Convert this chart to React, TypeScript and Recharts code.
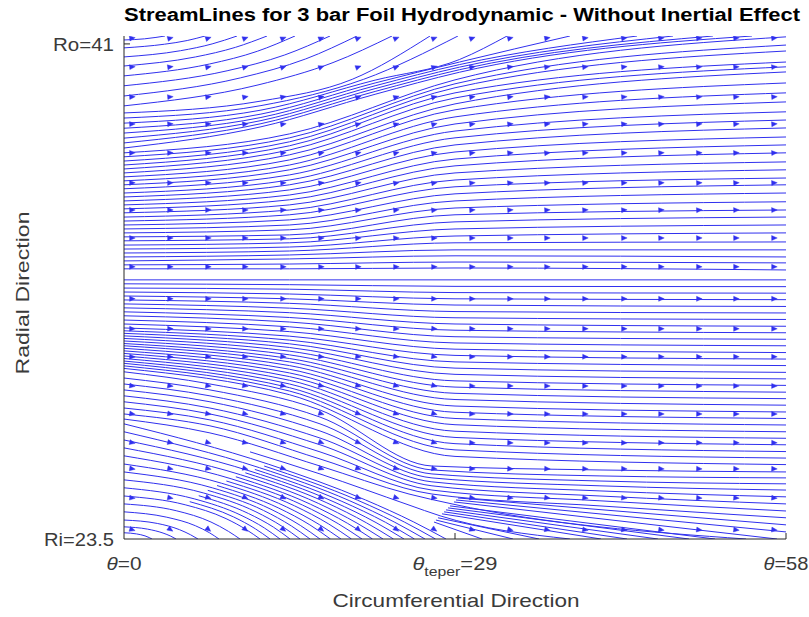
import React from 'react';
import { ComposedChart, Line, Scatter, XAxis, YAxis } from 'recharts';

type Pt = [number, number];

const BLUE = '#3030ee';
const AXIS = '#262626';
const TEXT = '#3a3a3a';
const FONT = '"Liberation Sans", Arial, Helvetica, sans-serif';

// streamlines as [theta, r] points, grouped by region of the bearing pad
const topArcs: Pt[][] = [
  [[0, 41.14], [1.8, 41.18], [2.8, 41.23], [3.59, 41.28]],
  [[0, 40.86], [3.55, 40.99], [5.54, 41.12], [7.1, 41.28]],
  [[0, 40.54], [4.95, 40.76], [7.72, 41.0], [9.9, 41.28]],
  [[0, 40.22], [6.27, 40.54], [9.77, 40.88], [12.53, 41.28]],
  [[0, 39.87], [7.49, 40.29], [11.68, 40.74], [14.98, 41.28]],
  [[0, 39.52], [9.03, 40.05], [14.08, 40.61], [18.05, 41.28]],
  [[0, 39.16], [10.2, 39.8], [15.92, 40.47], [20.41, 41.28]],
  [[0, 38.81], [11.74, 39.55], [18.31, 40.34], [23.48, 41.28]],
];

const bandLines: Pt[][] = [
  [[0, 38.56], [12, 38.98], [20, 39.75], [26.81, 41.28]],
  [[0, 38.38], [12, 38.82], [21, 39.75], [29.26, 41.28]],
  [[0, 38.2], [12, 38.66], [22, 39.72], [29.4, 40.45], [33.56, 41.28]],
  [[0, 38.02], [12, 38.52], [22, 39.62], [29.4, 40.36], [39.07, 41.28]],
  [[0, 37.85], [12, 38.4], [22, 39.52], [29.4, 40.27], [44.95, 41.28]],
  [[0, 37.67], [12, 38.29], [22, 39.42], [29.4, 40.18], [48.1, 41.28]],
  [[0, 37.5], [12, 38.18], [22, 39.32], [29.4, 40.09], [51.6, 41.28]],
  [[0, 37.32], [12, 38.07], [22, 39.22], [29.4, 40.0], [55.02, 41.28]],
];

const upperLines: Pt[][] = [
  [[0, 37.15], [14.5, 37.82], [29, 39.73], [58, 41.25]],
  [[0, 37.01], [14.5, 37.68], [29, 39.59], [58, 40.96]],
  [[0, 36.86], [14.5, 37.54], [29, 39.45], [58, 40.75]],
  [[0, 36.72], [14.5, 37.4], [29, 39.27], [58, 40.36]],
  [[0, 36.58], [14.5, 37.25], [29, 39.09], [58, 40.19]],
  [[0, 36.44], [14.5, 37.08], [29, 38.88], [58, 40.01]],
  [[0, 36.3], [14.5, 36.9], [29, 38.67], [58, 39.62]],
  [[0, 36.16], [14.5, 36.72], [29, 38.42], [58, 39.27]],
  [[0, 36.02], [14.5, 36.55], [29, 38.17], [58, 38.95]],
  [[0, 35.88], [14.5, 36.37], [29, 37.92], [58, 38.6]],
  [[0, 35.73], [14.5, 36.19], [29, 37.68], [58, 38.31]],
  [[0, 35.59], [14.5, 36.02], [29, 37.43], [58, 38.03]],
  [[0, 35.45], [14.5, 35.84], [29, 37.18], [58, 37.71]],
  [[0, 35.31], [14.5, 35.66], [29, 36.93], [58, 37.43]],
  [[0, 35.17], [14.5, 35.49], [29, 36.69], [58, 37.15]],
  [[0, 35.03], [14.5, 35.31], [29, 36.44], [58, 36.83]],
  [[0, 34.88], [14.5, 35.13], [29, 36.19], [58, 36.55]],
  [[0, 34.74], [14.5, 34.96], [29, 35.95], [58, 36.26]],
  [[0, 34.6], [14.5, 34.78], [29, 35.7], [58, 36.02]],
  [[0, 34.46], [14.5, 34.6], [29, 35.45], [58, 35.73]],
  [[0, 34.32], [14.5, 34.43], [29, 35.2], [58, 35.42]],
  [[0, 34.18], [14.5, 34.25], [29, 34.96], [58, 35.13]],
  [[0, 34.04], [14.5, 34.11], [29, 34.71], [58, 34.88]],
  [[0, 33.89], [14.5, 33.97], [29, 34.46], [58, 34.6]],
  [[0, 33.75], [14.5, 33.82], [29, 34.21], [58, 34.32]],
  [[0, 33.61], [14.5, 33.68], [29, 33.97], [58, 34.0]],
  [[0, 33.47], [14.5, 33.54], [29, 33.72], [58, 33.72]],
  [[0, 33.33], [14.5, 33.4], [29, 33.51], [58, 33.47]],
  [[0, 33.19], [14.5, 33.22], [29, 33.29], [58, 33.26]],
  [[0, 33.05], [14.5, 33.05], [29, 33.08], [58, 33.01]],
];

const middleLines: Pt[][] = [
  [[0, 32.66], [14.5, 32.66], [29, 32.66], [58, 32.66]],
  [[0, 32.52], [14.5, 32.49], [29, 32.43], [58, 32.42]],
  [[0, 32.37], [14.5, 32.33], [29, 32.21], [58, 32.19]],
  [[0, 32.23], [14.5, 32.16], [29, 31.99], [58, 31.96]],
  [[0, 32.09], [14.5, 31.99], [29, 31.77], [58, 31.72]],
  [[0, 31.95], [14.5, 31.83], [29, 31.54], [58, 31.49]],
  [[0, 31.81], [14.5, 31.66], [29, 31.32], [58, 31.26]],
  [[0, 31.67], [14.5, 31.5], [29, 31.1], [58, 31.02]],
  [[0, 31.53], [14.5, 31.33], [29, 30.88], [58, 30.79]],
  [[0, 31.39], [14.5, 31.17], [29, 30.65], [58, 30.56]],
  [[0, 31.24], [14.5, 31.0], [29, 30.43], [58, 30.33]],
  [[0, 31.1], [14.5, 30.83], [29, 30.21], [58, 30.09]],
  [[0, 30.96], [14.5, 30.67], [29, 29.99], [58, 29.86]],
  [[0, 30.86], [14.5, 30.53], [29, 29.76], [58, 29.63]],
  [[0, 30.77], [14.5, 30.4], [29, 29.54], [58, 29.39]],
  [[0, 30.68], [14.5, 30.27], [29, 29.32], [58, 29.16]],
  [[0, 30.59], [14.5, 30.14], [29, 29.09], [58, 28.93]],
  [[0, 30.5], [14.5, 30.01], [29, 28.87], [58, 28.69]],
  [[0, 30.41], [14.5, 29.88], [29, 28.65], [58, 28.46]],
  [[0, 30.33], [14.5, 29.76], [29, 28.43], [58, 28.23]],
  [[0, 30.24], [14.5, 29.63], [29, 28.2], [58, 27.99]],
  [[0, 30.15], [14.5, 29.5], [29, 27.98], [58, 27.76]],
  [[0, 30.06], [14.5, 29.37], [29, 27.76], [58, 27.53]],
  [[0, 29.97], [14.5, 29.24], [29, 27.54], [58, 27.29]],
  [[0, 29.88], [14.5, 29.11], [29, 27.31], [58, 27.06]],
  [[0, 29.79], [14.5, 28.98], [29, 27.09], [58, 26.83]],
  [[0, 29.71], [14.5, 28.85], [29, 26.87], [58, 26.59]],
  [[0, 29.62], [14.5, 28.73], [29, 26.65], [58, 26.36]],
  [[0, 29.53], [14.5, 28.6], [29, 26.42], [58, 26.13]],
];

// lines that dive towards the taper corner and spread out behind it
const lowerLines: Pt[][] = [
  [[0, 29.41], [7.53, 28.98], [17.17, 28.06], [26.98, 26.08], [41.7, 25.94], [58, 25.87]],
  [[0, 29.19], [7.53, 28.77], [17.17, 27.81], [26.98, 25.94], [41.7, 25.73], [58, 25.66]],
  [[0, 28.98], [7.53, 28.56], [17.17, 27.57], [26.98, 25.8], [41.7, 25.55], [58, 25.45]],
  [[0, 28.77], [7.53, 28.35], [17.17, 27.32], [26.98, 25.66], [41.7, 25.38], [58, 25.23]],
  [[0, 28.56], [7.53, 28.13], [17.17, 27.07], [26.98, 25.52], [41.7, 25.2], [58, 24.99]],
  [[0, 28.35], [7.53, 27.92], [17.17, 26.83], [26.98, 25.38], [41.7, 25.02], [58, 24.74]],
  [[0, 28.13], [7.53, 27.71], [17.17, 26.58], [26.98, 25.23], [41.7, 24.85], [58, 24.49]],
  [[0, 27.92], [7.53, 27.5], [17.17, 26.33], [26.98, 25.09], [41.7, 24.67], [58, 24.25]],
  [[0, 27.74], [7.53, 27.25], [17.17, 26.08], [24.97, 25.09], [28.74, 24.74], [54.5, 23.5]],
  [[11.04, 26.58], [17.17, 25.8], [24.97, 24.7], [27.69, 24.32], [39.07, 23.5]],
];

const bottomArcs: Pt[][] = [
  [[0, 27.57], [12.69, 26.14], [21.16, 24.88], [25.39, 24.1], [28.21, 23.5]],
  [[0, 27.29], [11.87, 26.02], [19.78, 24.85], [23.73, 24.09], [26.37, 23.5]],
  [[0, 27.0], [11.04, 25.9], [18.4, 24.81], [22.08, 24.08], [24.53, 23.5]],
  [[0, 26.72], [10.22, 25.77], [17.02, 24.76], [20.42, 24.06], [22.69, 23.5]],
  [[0, 26.44], [9.38, 25.63], [15.64, 24.7], [18.77, 24.04], [20.85, 23.5]],
  [[0, 26.15], [8.56, 25.47], [14.26, 24.63], [17.11, 24.01], [19.01, 23.5]],
  [[0, 25.87], [7.73, 25.31], [12.88, 24.55], [15.45, 23.98], [17.17, 23.5]],
  [[0, 25.59], [6.94, 25.13], [11.56, 24.46], [13.88, 23.94], [15.42, 23.5]],
  [[0, 25.31], [6.15, 24.92], [10.25, 24.34], [12.3, 23.89], [13.67, 23.5]],
  [[0, 25.02], [5.36, 24.71], [8.94, 24.22], [10.72, 23.83], [11.92, 23.5]],
  [[0, 24.74], [4.57, 24.5], [7.62, 24.1], [9.15, 23.77], [10.16, 23.5]],
  [[0, 24.46], [3.75, 24.27], [6.25, 23.97], [7.49, 23.72], [8.32, 23.5]],
  [[0, 24.17], [2.92, 24.05], [4.86, 23.83], [5.83, 23.65], [6.48, 23.5]],
  [[0, 23.93], [2.05, 23.85], [3.42, 23.71], [4.1, 23.6], [4.56, 23.5]],
  [[0, 23.72], [1.1, 23.68], [1.84, 23.61], [2.21, 23.55], [2.45, 23.5]],
];

// arcs that start inside the field where the wall-fed arcs spread apart
const innerArcs: Pt[][] = [
  [[12.28, 26.08], [20.47, 24.87], [24.56, 24.1], [27.29, 23.5]],
  [[11.46, 25.96], [19.09, 24.83], [22.91, 24.09], [25.45, 23.5]],
  [[10.63, 25.84], [17.71, 24.79], [21.25, 24.07], [23.61, 23.5]],
  [[9.8, 25.7], [16.33, 24.73], [19.6, 24.05], [21.77, 23.5]],
  [[8.97, 25.55], [14.95, 24.67], [17.94, 24.03], [19.93, 23.5]],
  [[8.15, 25.39], [13.57, 24.59], [16.28, 24.0], [18.09, 23.5]],
  [[7.34, 25.22], [12.22, 24.51], [14.67, 23.96], [16.3, 23.5]],
  [[6.55, 25.03], [10.91, 24.4], [13.09, 23.92], [14.55, 23.5]],
  [[5.76, 24.82], [9.6, 24.28], [11.51, 23.86], [12.8, 23.5]],
];

const fanLines: Pt[][] = [
  [[29.26, 24.95], [58, 24.0]],
  [[29.09, 24.88], [58, 23.75]],
  [[28.91, 24.81], [57.21, 23.5]],
  [[28.56, 24.67], [51.78, 23.5]],
  [[28.39, 24.6], [49.5, 23.5]],
  [[28.21, 24.53], [46.78, 23.5]],
  [[28.04, 24.46], [44.07, 23.5]],
  [[27.86, 24.39], [41.79, 23.5]],
  [[27.51, 24.25], [36.36, 23.5]],
  [[27.33, 24.17], [34.08, 23.5]],
  [[27.16, 24.1], [31.37, 23.5]],
];

// arrowhead grid: columns in theta, rows in r, tilt in screen degrees
const arrowTheta = [0.79, 4.12, 7.45, 10.69, 14.02, 17.35, 20.59, 23.92, 27.25, 30.58, 33.91, 37.15, 40.48, 43.89, 47.14, 50.46, 53.71, 57.04];
const arrowR = [41.21, 40.19, 39.13, 38.17, 37.15, 36.09, 35.13, 34.14, 33.12, 31.99, 30.93, 29.94, 28.91, 27.92, 26.9, 25.98, 24.95, 23.82];
const arrowTilt = [
  [-8, -15, -18, -20, -22, -22, -22, -22, -22, -20, -15, -10, -9, -8, -7, -6, -6, -5],
  [-5, -8, -12, -15, -18, -20, -20, -20, -18, -10, -8, -7, -6, -6, -5, -5, -5, -5],
  [-3, -5, -7, -10, -12, -15, -18, -18, -16, -8, -7, -6, -5, -5, -5, -5, -4, -4],
  [-2, -3, -4, -6, -9, -12, -15, -16, -15, -7, -6, -5, -5, -4, -4, -4, -4, -4],
  [-1, -2, -3, -4, -7, -11, -13, -14, -12, -6, -5, -5, -4, -4, -4, -3, -3, -3],
  [-1, -1, -2, -3, -5, -8, -10, -10, -9, -5, -5, -4, -4, -3, -3, -3, -3, -3],
  [-1, -1, -1, -2, -3, -5, -6, -6, -6, -4, -4, -3, -3, -3, -3, -3, -2, -2],
  [0, 0, -1, -1, -2, -3, -3, -3, -3, -2, -2, -2, -2, -2, -2, -2, -1, -1],
  [0, 0, 0, 0, -1, -1, -1, -1, -1, -1, -1, -1, -1, 0, 0, 0, 0, 0],
  [0, 0, 0, 1, 1, 1, 1, 1, 1, 0, 0, 0, 0, 0, 0, 0, 0, 0],
  [1, 1, 2, 2, 2, 3, 3, 4, 4, 1, 0, 0, 0, 0, 0, 0, 0, 0],
  [3, 3, 4, 4, 5, 6, 7, 8, 9, 1, 1, 1, 1, 0, 0, 0, 0, 0],
  [8, 8, 9, 11, 12, 15, 15, 16, 16, 1, 1, 1, 1, 1, 1, 1, 1, 1],
  [8, 9, 10, 14, 15, 17, 22, 18, 16, 2, 2, 1, 1, 1, 1, 1, 1, 1],
  [12, 14, 15, 12, 17, 22, 24, 21, 18, 2, 2, 2, 2, 2, 1, 1, 1, 1],
  [9, 11, 13, 17, 19, 17, 19, 19, 10, 4, 3, 3, 2, 2, 2, 2, 2, 2],
  [6, 11, 19, 24, 27, 27, 24, 17, 8, 8, 7, 7, 6, 6, 5, 5, 5, 5],
  [17, 35, 40, 40, 40, 40, 40, 38, 35, 18, 14, 12, 10, 9, 8, 7, 7, 6],
];

const thetaTicks = [0, 29, 58];
const radiusTicks = [23.5, 41];

const streamlines = [
  ...topArcs,
  ...bandLines,
  ...upperLines,
  ...middleLines,
  ...lowerLines,
  ...bottomArcs,
  ...innerArcs,
  ...fanLines,
].map((pts) => pts.map(([t, r]) => ({ t, r })));

const arrows = arrowR.flatMap((r, i) =>
  arrowTheta.map((t, j) => ({ t, r, a: arrowTilt[i][j] }))
);

const ArrowHead = (props: any) => {
  const { cx, cy, payload } = props;
  if (cx == null || cy == null) return <g />;
  return (
    <path
      d="M-3.4,-2.5 L2.2,0 L-3.4,2.5 Z"
      transform={`translate(${cx},${cy}) rotate(${payload.a})`}
      fill={BLUE}
      stroke={BLUE}
      strokeWidth={0.4}
    />
  );
};

const thetaWidths: Record<number, number> = { 0: 35, 29: 85, 58: 45 };

const ThetaTick = (props: any) => {
  const { x, y, payload } = props;
  const v = payload.value;
  return (
    <g>
      {v !== 0 && <line x1={x} x2={x} y1={y} y2={y - 6} stroke={AXIS} strokeWidth={1} />}
      <text
        x={x}
        y={y + 31}
        textAnchor="middle"
        fontSize={18}
        fill={TEXT}
        fontFamily={FONT}
        textLength={thetaWidths[v]}
        lengthAdjust="spacingAndGlyphs"
      >
        <tspan fontStyle="italic">θ</tspan>
        {v === 29 ? (
          <>
            <tspan fontSize={13} dy={6}>teper</tspan>
            <tspan dy={-6}>=29</tspan>
          </>
        ) : (
          <tspan>={v}</tspan>
        )}
      </text>
    </g>
  );
};

const RadiusTick = (props: any) => {
  const { x, y, payload } = props;
  const v = payload.value;
  return (
    <g>
      {v === 41 && <line x1={x} x2={x + 6} y1={y} y2={y} stroke={AXIS} strokeWidth={1} />}
      <text
        x={x - 10}
        y={y + 7}
        textAnchor="end"
        fontSize={18}
        fill={TEXT}
        fontFamily={FONT}
        textLength={v === 41 ? 61 : 70}
        lengthAdjust="spacingAndGlyphs"
      >
        {v === 41 ? 'Ro=41' : 'Ri=23.5'}
      </text>
    </g>
  );
};

export default function App() {
  return (
    <div style={{ position: 'absolute', left: 0, top: 0, width: 809, height: 617, background: '#fff' }}>
      <ComposedChart width={809} height={617} margin={{ top: 36, right: 23, bottom: 48, left: 64 }}>
        <XAxis
          type="number"
          dataKey="t"
          domain={[0, 58]}
          ticks={thetaTicks}
          allowDataOverflow
          height={30}
          tickSize={0}
          tickMargin={0}
          tickLine={false}
          axisLine={{ stroke: AXIS, strokeWidth: 1 }}
          tick={<ThetaTick />}
        />
        <YAxis
          type="number"
          dataKey="r"
          domain={[23.5, 41.28]}
          ticks={radiusTicks}
          allowDataOverflow
          width={60}
          tickSize={0}
          tickMargin={0}
          tickLine={false}
          axisLine={{ stroke: AXIS, strokeWidth: 1 }}
          tick={<RadiusTick />}
        />
        {streamlines.map((data, i) => (
          <Line
            key={`s${i}`}
            data={data}
            dataKey="r"
            type="monotone"
            stroke={BLUE}
            strokeWidth={1}
            dot={false}
            activeDot={false}
            isAnimationActive={false}
          />
        ))}
        <Scatter data={arrows} dataKey="r" shape={<ArrowHead />} isAnimationActive={false} />
      </ComposedChart>
      <svg
        width={809}
        height={617}
        style={{ position: 'absolute', left: 0, top: 0, pointerEvents: 'none' }}
      >
        <text x={124} y={21} fontSize={18} fontWeight="bold" fill="#000" fontFamily={FONT} textLength={676} lengthAdjust="spacingAndGlyphs">
          StreamLines for 3 bar Foil Hydrodynamic - Without Inertial Effect
        </text>
        <text x={456} y={607} textAnchor="middle" fontSize={19} fill={TEXT} fontFamily={FONT} textLength={247} lengthAdjust="spacingAndGlyphs">
          Circumferential Direction
        </text>
        <text
          x={0}
          y={0}
          transform="translate(29,293) rotate(-90)"
          textAnchor="middle"
          fontSize={19}
          fill={TEXT}
          fontFamily={FONT}
          textLength={163}
          lengthAdjust="spacingAndGlyphs"
        >
          Radial Direction
        </text>
      </svg>
    </div>
  );
}
